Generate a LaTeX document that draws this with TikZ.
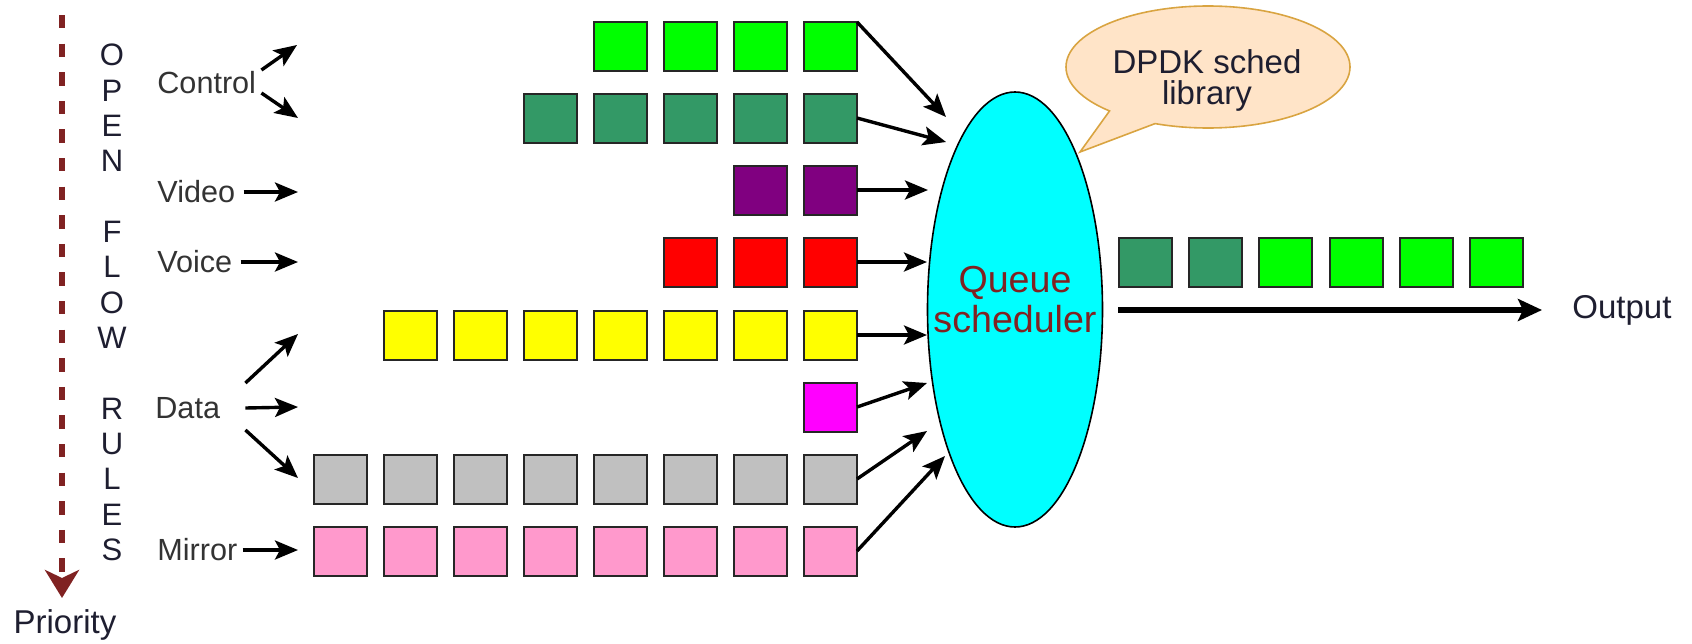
\documentclass[tikz,border=0pt]{standalone}
\usepackage{fontspec}
\setmainfont{Liberation Sans}
\usetikzlibrary{arrows.meta,shapes.geometric,shapes.callouts}
\definecolor{cgreen}{HTML}{00FF00}
\definecolor{cdkgreen}{HTML}{339966}
\definecolor{cpurple}{HTML}{800080}
\definecolor{cred}{HTML}{FF0000}
\definecolor{cyellow}{HTML}{FFFF00}
\definecolor{cmagenta}{HTML}{FF00FF}
\definecolor{cgray}{HTML}{C0C0C0}
\definecolor{cpink}{HTML}{FF99CC}
\definecolor{ccyan}{HTML}{00FFFF}
\definecolor{cmaroon}{HTML}{802222}
\definecolor{cpeach}{HTML}{FFE4C8}
\definecolor{cgold}{HTML}{D9A441}
\definecolor{clabel}{HTML}{333333}
\definecolor{ctext}{HTML}{1E1E30}
\begin{document}
\begin{tikzpicture}[x=0.5pt,y=-0.5pt,
  pkt/.style={draw=black!85,line width=1pt,minimum width=26.5pt,minimum height=24.5pt,inner sep=0,outer sep=0},
  conn/.style={line width=1.7pt,-{Stealth[length=11.5pt,width=9.5pt,inset=2.5pt]}},
  outarrow/.style={line width=3pt,-{Stealth[length=12pt,width=11pt,inset=2.5pt]}},
  prioline/.style={draw=cmaroon,line width=3pt,dash pattern=on 6.7pt off 7.6pt,-{Stealth[length=14pt,width=17pt,inset=4pt,fill=cmaroon]}},
  lbl/.style={anchor=west,inner sep=0,text=clabel,font=\fontsize{15.3}{18}\selectfont},
  letter/.style={inner sep=0,text=ctext,font=\fontsize{15.5}{18}\selectfont},
  bigtext/.style={inner sep=0,text=ctext,font=\fontsize{16.5}{18}\selectfont},
]
\useasboundingbox (0,0) rectangle (1692,643);

% priority dashed arrow
\coordinate (ptop) at (62,15);
\coordinate (pend) at (62,598);
\draw[prioline] (ptop) -- (pend);
\node[bigtext] (prio) at (65,625) {Priority};

% OPEN FLOW RULES
\foreach \ch/\k in {O/0,P/1,E/2,N/3,F/5,L/6,O/7,W/8,R/10,U/11,L/12,E/13,S/14}
  \node[letter] (l\k) at (112,{55+35.36*\k}) {\ch};

% labels
\node[lbl] (ctl) at (157,83) {Control};
\node[lbl] (vid) at (157,192) {Video};
\node[lbl] (voi) at (157,262) {Voice};
\node[lbl] (dat) at (155,408) {Data};
\node[lbl] (mir) at (157,550) {Mirror};

\coordinate (tc1) at (297,45);
\coordinate (tc2) at (298,118);
\coordinate (tv) at (298,192);
\coordinate (tvo) at (298,262);
\coordinate (td1) at (298,334);
\coordinate (td2) at (298,407);
\coordinate (td3) at (298,478);
\coordinate (tm) at (298,550);

\draw[conn] ([xshift=2.5pt,yshift=6.5pt]ctl.east) -- (tc1);
\draw[conn] ([xshift=2.5pt,yshift=-5pt]ctl.east) -- (tc2);
\draw[conn] ([xshift=4pt]vid.east) -- (tv);
\draw[conn] ([xshift=4pt]voi.east) -- (tvo);
\draw[conn] ([xshift=12.5pt,yshift=12.5pt]dat.east) -- (td1);
\draw[conn] ([xshift=12.5pt]dat.east) -- (td2);
\draw[conn] ([xshift=12.5pt,yshift=-11pt]dat.east) -- (td3);
\draw[conn] ([xshift=2.5pt]mir.east) -- (tm);

% packet rows
\foreach \r/\y/\n/\c in {1/46.5/4/cgreen,2/118/5/cdkgreen,3/190/2/cpurple,4/262/3/cred,5/335/7/cyellow,6/407/1/cmagenta,7/479/8/cgray,8/551/8/cpink}{
  \foreach \i in {1,...,\n}{
    \node[pkt,fill=\c] (b\r-\i) at ({830.5-70*(\i-1)},\y) {};
  }
}

% scheduler
\node[ellipse,draw,fill=ccyan,line width=0.8pt,minimum width=87.5pt,minimum height=217.5pt,inner sep=0] (sched) at (1015,309.5) {};
\node[text=cmaroon,align=center,inner sep=0,font=\fontsize{18.8}{20}\selectfont] (schedtxt) at (1015,300) {Queue\\scheduler};

\coordinate (e1) at (946,117);
\coordinate (e2) at (946,142);
\coordinate (e3) at (928,190);
\coordinate (e4) at (927,262);
\coordinate (e5) at (927,335);
\coordinate (e6) at (927,383);
\coordinate (e7) at (927,431);
\coordinate (e8) at (945,456);
\draw[conn] (b1-1.north east) -- (e1);
\draw[conn] (b2-1.east) -- (e2);
\draw[conn] (b3-1.east) -- (e3);
\draw[conn] (b4-1.east) -- (e4);
\draw[conn] (b5-1.east) -- (e5);
\draw[conn] (b6-1.east) -- (e6);
\draw[conn] (b7-1.east) -- (e7);
\draw[conn] (b8-1.east) -- (e8);

% callout
\node[ellipse callout,draw=cgold,fill=cpeach,line width=0.8pt,minimum width=142pt,minimum height=61pt,inner sep=0,callout absolute pointer={(1080,152)},callout pointer arc=22] (bub) at (1208,67) {};
\node[align=center,inner sep=0,text=ctext,font=\fontsize{16.5}{15.5}\selectfont] (bubtxt) at (1207,80) {DPDK sched\\library};

% output queue
\foreach \i/\c in {1/cdkgreen,2/cdkgreen,3/cgreen,4/cgreen,5/cgreen,6/cgreen}
  \node[pkt,fill=\c] (o\i) at ({1145.5+70.2*(\i-1)},262) {};
\node[bigtext,anchor=west] (out) at (1572,310) {Output};
\coordinate (os) at (1118,310);
\draw[outarrow] (os) -- ([xshift=-15pt]out.west);
\end{tikzpicture}
\end{document}
